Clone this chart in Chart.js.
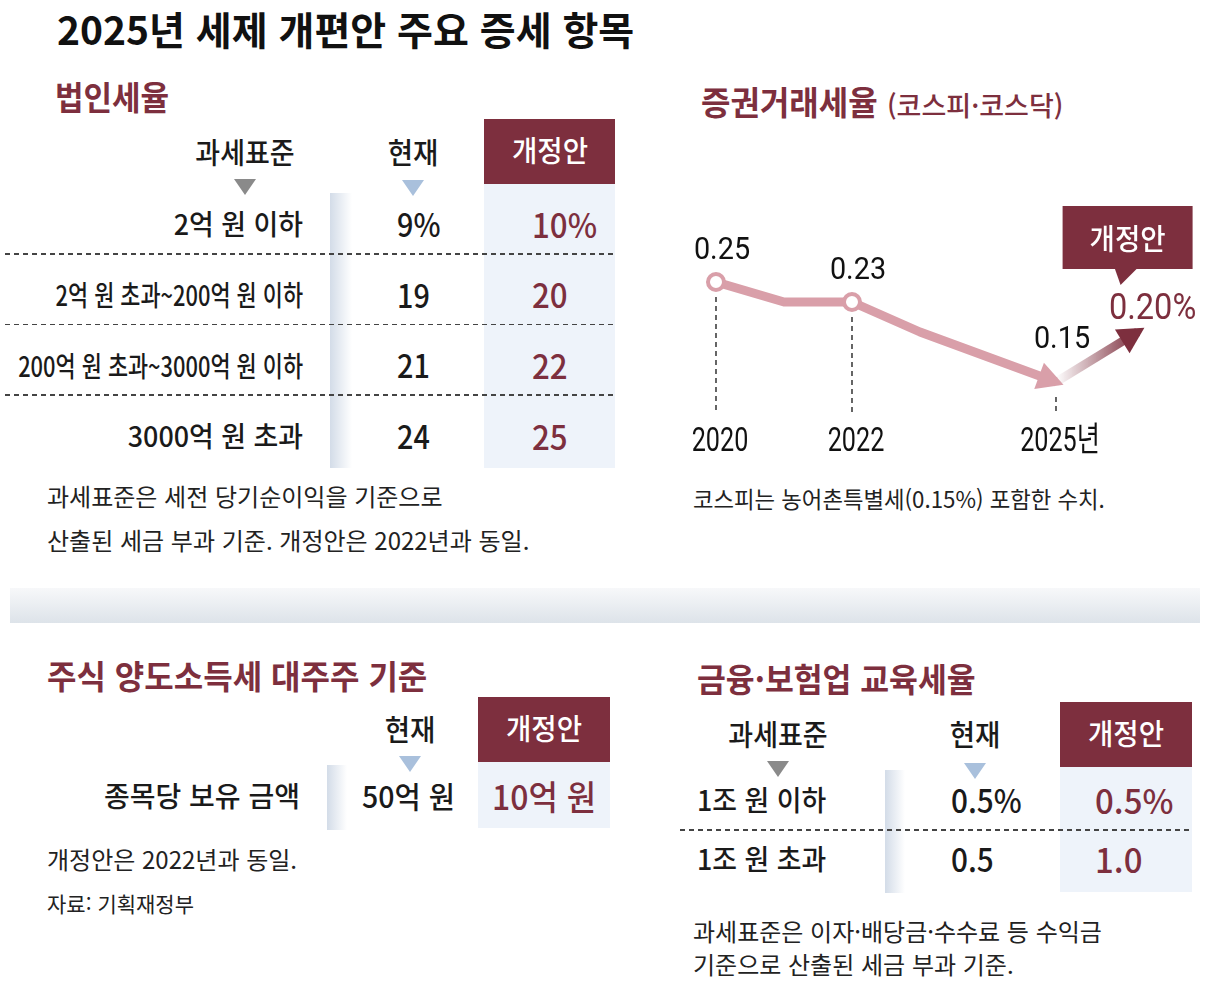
<!DOCTYPE html>
<html lang="ko">
<head>
<meta charset="utf-8">
<title>2025년 세제 개편안 주요 증세 항목</title>
<script src="https://cdn.jsdelivr.net/npm/chart.js@4.4.1/dist/chart.umd.min.js"></script>
<style>
  html, body { margin: 0; padding: 0; background: #fff; }
  body { font-family: "Noto Sans CJK KR", "Noto Sans", sans-serif; }
  #page { position: relative; width: 1206px; height: 982px; overflow: hidden; }
  .t { position: absolute; white-space: nowrap; line-height: 1.1; }
  .b { position: absolute; }
  .tri { position: absolute; width: 0; height: 0; border-left: 11px solid transparent; border-right: 11px solid transparent; border-top: 16px solid #8a8a8a; }
  .dash { position: absolute; height: 1.5px; background: repeating-linear-gradient(to right, #444 0 5px, transparent 5px 9px); }
  #chartBox { position: absolute; left: 680px; top: 200px; width: 526px; height: 280px; }
</style>
</head>
<body>
<div id="page">
  <div id="chartBox"><canvas id="stChart"></canvas></div>
</div>
<script>
// 법인세율
var corpBrackets = ['2억 원 이하', '2억 원 초과~200억 원 이하', '200억 원 초과~3000억 원 이하', '3000억 원 초과'];
var corpCurrent = ['9%', '19', '21', '24'];
var corpProposal = ['10%', '20', '22', '25'];

// 증권거래세율 (코스피·코스닥)
var stYears = [2020, 2021, 2022, 2023, 2025];
var stRates = [0.25, 0.23, 0.23, 0.20, 0.15];
var stProposalX = [2025, 2026.2];
var stProposalRates = [0.15, 0.20];
var stTickYears = [2020, 2022, 2025];
var stTickLabels = ['2020', '2022', '2025년'];

// 주식 양도소득세 대주주 기준
var shareItems = ['종목당 보유 금액'];
var shareCurrent = ['50억 원'];
var shareProposal = ['10억 원'];

// 금융·보험업 교육세율
var eduBrackets = ['1조 원 이하', '1조 원 초과'];
var eduCurrent = ['0.5%', '0.5'];
var eduProposal = ['0.5%', '1.0'];

var MAROON = '#7d2f3e';
var PINK = '#d99fa9';
var page = document.getElementById('page');

function put(x, y, text, o) {
    o = o || {};
    var el = document.createElement('div');
    var size = o.size || 24;
    var a = o.align || 'left';
    el.className = 't';
    el.textContent = text;
    el.style.fontSize = size + 'px';
    el.style.fontWeight = o.weight || 400;
    el.style.color = o.color || '#1a1a1a';
    el.style.left = x + 'px';
    el.style.top = (y - size * 0.6) + 'px';
    if (a !== 'left' || o.sx) {
        el.style.transformOrigin = (a === 'center' ? '50%' : a === 'right' ? '100%' : '0') + ' 50%';
        el.style.transform = 'translateX(' + (a === 'center' ? '-50%' : a === 'right' ? '-100%' : '0') + ') scaleX(' + (o.sx || 1) + ')';
    }
    page.appendChild(el);
}

function box(x, y, w, h, bg) {
    var el = document.createElement('div');
    el.className = 'b';
    el.style.left = x + 'px'; el.style.top = y + 'px';
    el.style.width = w + 'px'; el.style.height = h + 'px';
    el.style.background = bg;
    page.appendChild(el);
}

function tri(cx, y, color) {
    var el = document.createElement('div');
    el.className = 'tri';
    el.style.left = (cx - 11) + 'px'; el.style.top = y + 'px';
    el.style.borderTopColor = color;
    page.appendChild(el);
}

function dash(x1, y, x2) {
    var el = document.createElement('div');
    el.className = 'dash';
    el.style.left = x1 + 'px'; el.style.top = y + 'px'; el.style.width = (x2 - x1) + 'px';
    page.appendChild(el);
}

function proposalHead(x, y, w, h) {
    box(x, y, w, h, MAROON);
    put(x + w / 2, y + h / 2, '개정안', { size: 29, weight: 500, color: '#fff', align: 'center', sx: 0.95 });
}

var STRIP = 'linear-gradient(to right, #d3dce8, rgba(255,255,255,0))';
var COLBG = '#eef3fa';

// 제목
put(57, 30.5, '2025년 세제 개편안 주요 증세 항목', { size: 39, weight: 700, color: '#111' });

// 법인세율 표
put(55, 98, '법인세율', { size: 33, weight: 700, color: MAROON, sx: 0.94 });
box(484, 184, 131, 284, COLBG);
box(330, 193, 22, 275, STRIP);
proposalHead(484, 119, 131, 65);
put(245, 153, '과세표준', { size: 29, weight: 500, align: 'center', sx: 0.93 });
put(413, 153, '현재', { size: 29, weight: 500, align: 'center', sx: 0.95 });
tri(245, 179, '#8a8a8a');
tri(413, 180, '#a9c0dc');
corpBrackets.forEach(function (lab, i) {
    var y = 225 + i * 70.7;
    put(303, y, lab, { size: 28, weight: 500, align: 'right', sx: lab.indexOf('~') >= 0 ? 0.78 : 0.96 });
    put(397, y, corpCurrent[i], { size: 32, weight: 500, sx: 0.9 });
    put(532, y, corpProposal[i], { size: 34, weight: 500, sx: 0.92, color: MAROON });
    if (i < corpBrackets.length - 1) dash(5, y + 28, 615);
});
put(47, 497, '과세표준은 세전 당기순이익을 기준으로', { size: 24, color: '#222' });
put(47, 541, '산출된 세금 부과 기준. 개정안은 2022년과 동일.', { size: 24, color: '#222' });

// 증권거래세율 제목
put(701, 103, '증권거래세율', { size: 33, weight: 700, color: MAROON, sx: 0.97 });
put(887, 106, '(코스피·코스닥)', { size: 27, weight: 500, color: MAROON });
put(693, 500, '코스피는 농어촌특별세(0.15%) 포함한 수치.', { size: 23, color: '#222', sx: 0.97 });

// 구분 띠
box(10, 588, 1190, 35, 'linear-gradient(to bottom, #f7f8fa, #dde3e9)');

// 주식 양도소득세 대주주 기준
put(47, 677, '주식 양도소득세 대주주 기준', { size: 33, weight: 700, color: MAROON, sx: 0.97 });
box(478, 762, 132, 66, COLBG);
box(327, 765, 20, 65, STRIP);
proposalHead(478, 697, 132, 65);
put(410, 730, '현재', { size: 29, weight: 500, align: 'center', sx: 0.95 });
tri(410, 756, '#a9c0dc');
shareItems.forEach(function (lab, i) {
    var y = 797 + i * 60;
    put(300, y, lab, { size: 28, weight: 500, align: 'right', sx: 1 });
    put(362, y, shareCurrent[i], { size: 30, weight: 500, sx: 0.95 });
    put(492, y, shareProposal[i], { size: 34, weight: 500, sx: 0.94, color: MAROON });
});
put(47, 860, '개정안은 2022년과 동일.', { size: 24, color: '#222' });
put(47, 905, '자료: 기획재정부', { size: 21, color: '#222' });

// 금융·보험업 교육세율
put(697, 680, '금융·보험업 교육세율', { size: 33, weight: 700, color: MAROON, sx: 0.95 });
box(1060, 767, 132, 125, COLBG);
box(885, 770, 20, 123, STRIP);
proposalHead(1060, 702, 132, 65);
put(778, 735, '과세표준', { size: 29, weight: 500, align: 'center', sx: 0.93 });
put(975, 735, '현재', { size: 29, weight: 500, align: 'center', sx: 0.95 });
tri(778, 761, '#8a8a8a');
tri(975, 763, '#a9c0dc');
eduBrackets.forEach(function (lab, i) {
    var y = 801 + i * 59;
    put(697, y, lab, { size: 28, weight: 500, sx: 0.96 });
    put(951, y, eduCurrent[i], { size: 32, weight: 500, sx: 0.93 });
    put(1095, y, eduProposal[i], { size: 34, weight: 500, sx: 0.97, color: MAROON });
    if (i < eduBrackets.length - 1) dash(680, y + 28, 1192);
});
put(693, 932, '과세표준은 이자·배당금·수수료 등 수익금', { size: 24, color: '#222' });
put(693, 965, '기준으로 산출된 세금 부과 기준.', { size: 24, color: '#222' });

// 증권거래세율 차트
var DROP_BOTTOM = 212;   // 캔버스 안 점선 끝
var TICK_Y = 242;        // 연도 라벨 위치

function drawText(ctx, text, x, y, font, color, sx) {
    ctx.save();
    ctx.translate(x, y);
    ctx.scale(sx || 1, 1);
    ctx.font = font;
    ctx.fillStyle = color;
    ctx.textAlign = 'center';
    ctx.textBaseline = 'middle';
    ctx.fillText(text, 0, 0);
    ctx.restore();
}

function arrowHead(ctx, a, b, color) {
    var ang = Math.atan2(b.y - a.y, b.x - a.x);
    var c = Math.cos(ang), s = Math.sin(ang);
    var tipX = b.x + 8 * c, tipY = b.y + 8 * s;
    var bx = b.x - 18 * c, by = b.y - 18 * s;
    ctx.save();
    ctx.fillStyle = color;
    ctx.beginPath();
    ctx.moveTo(tipX, tipY);
    ctx.lineTo(bx - 14 * s, by + 14 * c);
    ctx.lineTo(bx + 14 * s, by - 14 * c);
    ctx.closePath();
    ctx.fill();
    ctx.restore();
}

var decor = {
    id: 'decor',
    beforeDatasetsDraw: function (chart) {
        var ctx = chart.ctx;
        var pts = chart.getDatasetMeta(0).data;
        ctx.save();
        ctx.strokeStyle = '#333';
        ctx.lineWidth = 1.5;
        ctx.setLineDash([5, 4]);
        stYears.forEach(function (yr, i) {
            if (stTickYears.indexOf(yr) < 0) return;
            var p = pts[i];
            ctx.beginPath();
            ctx.moveTo(p.x, p.y + 15);
            ctx.lineTo(p.x, DROP_BOTTOM);
            ctx.stroke();
        });
        ctx.restore();
    },
    afterDatasetsDraw: function (chart) {
        var ctx = chart.ctx;
        var d0 = chart.getDatasetMeta(0).data;
        var d1 = chart.getDatasetMeta(1).data;
        arrowHead(ctx, d1[0], d1[d1.length - 1], MAROON);
        arrowHead(ctx, d0[d0.length - 2], d0[d0.length - 1], PINK);

        var last = stYears.length - 1;
        stYears.forEach(function (yr, i) {
            var k = stTickYears.indexOf(yr);
            if (k < 0) return;
            var p = d0[i];
            drawText(ctx, stRates[i].toFixed(2), p.x + 6, p.y - (i === last ? 42 : 31), '400 32px Roboto', '#111', 0.9);
            drawText(ctx, stTickLabels[k], p.x + 4, TICK_Y, '400 34px Roboto, "Noto Sans CJK KR"', '#111', 0.74);
        });

        // 개정안 값과 말풍선
        var e = d1[d1.length - 1];
        drawText(ctx, stProposalRates[stProposalRates.length - 1].toFixed(2) + '%', e.x + 15, e.y - 22, '400 37px Roboto', MAROON, 0.88);
        var bx = e.x - 75, by = e.y - 126, bw = 130, bh = 63;
        ctx.save();
        ctx.fillStyle = MAROON;
        ctx.fillRect(bx, by, bw, bh);
        ctx.beginPath();
        ctx.moveTo(e.x - 23, by + bh - 1);
        ctx.lineTo(e.x, by + bh - 1);
        ctx.lineTo(e.x - 17, by + bh + 16);
        ctx.closePath();
        ctx.fill();
        ctx.restore();
        drawText(ctx, '개정안', bx + bw / 2, by + bh / 2 + 1, '500 29px "Noto Sans CJK KR"', '#fff', 0.95);
    }
};

document.addEventListener('DOMContentLoaded', function () {
    var ctx = document.getElementById('stChart').getContext('2d');
    new Chart(ctx, {
        type: 'line',
        data: {
            datasets: [{
                label: '증권거래세율',
                data: stYears.map(function (y, i) { return { x: y, y: stRates[i] }; }),
                borderColor: PINK,
                borderWidth: 9,
                borderJoinStyle: 'round',
                tension: 0,
                pointRadius: function (c) {
                    var i = c.dataIndex;
                    return (stTickYears.indexOf(stYears[i]) >= 0 && i < stYears.length - 1) ? 8 : 0;
                },
                pointBackgroundColor: '#fff',
                pointBorderColor: PINK,
                pointBorderWidth: 4
            }, {
                label: '개정안',
                data: stProposalX.map(function (x, i) { return { x: x, y: stProposalRates[i] }; }),
                borderColor: function (c) {
                    var ch = c.chart, sx = ch.scales.x;
                    if (!sx || !ch.chartArea) return MAROON;
                    var x0 = sx.getPixelForValue(stProposalX[0]);
                    var x1 = sx.getPixelForValue(stProposalX[stProposalX.length - 1]);
                    if (!isFinite(x0) || !isFinite(x1)) return MAROON;
                    var g = ch.ctx.createLinearGradient(x0, 0, x1, 0);
                    g.addColorStop(0, 'rgba(125,47,62,0)');
                    g.addColorStop(1, MAROON);
                    return g;
                },
                borderWidth: 9,
                pointRadius: 0,
                tension: 0
            }]
        },
        options: {
            responsive: true,
            maintainAspectRatio: false,
            animation: false,
            layout: { padding: 0, autoPadding: false },
            scales: {
                x: { type: 'linear', min: 2019.4706, max: 2027.206, display: false },
                y: { min: 0.052, max: 0.332, display: false }
            },
            plugins: { legend: { display: false }, tooltip: { enabled: false } }
        },
        plugins: [decor]
    });
});
</script>
</body>
</html>
